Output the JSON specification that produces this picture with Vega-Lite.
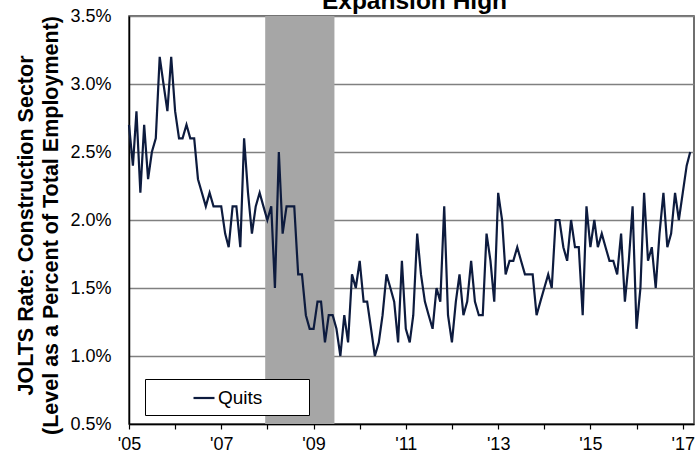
{
  "$schema": "https://vega.github.io/schema/vega-lite/v6.json",
  "width": 565,
  "height": 408,
  "autosize": {"type": "none"},
  "padding": {"left": 129, "top": 16, "right": 3, "bottom": 36},
  "background": "white",
  "config": {
    "view": {"stroke": "#404040", "strokeWidth": 1.5},
    "font": "Liberation Sans"
  },
  "title": {
    "text": "Expansion High",
    "fontSize": 24.5,
    "fontWeight": "bold",
    "color": "black",
    "anchor": "middle",
    "baseline": "alphabetic",
    "offset": 0,
    "dy": 26.5,
    "dx": 3
  },
  "datasets": {
    "recession": [{"start": "2007-12-15", "end": "2009-06-15"}],
    "quits": [
      {"date": "2005-01-01", "series": "Quits", "rate": 2.7},
      {"date": "2005-02-01", "series": "Quits", "rate": 2.4},
      {"date": "2005-03-01", "series": "Quits", "rate": 2.8},
      {"date": "2005-04-01", "series": "Quits", "rate": 2.2},
      {"date": "2005-05-01", "series": "Quits", "rate": 2.7},
      {"date": "2005-06-01", "series": "Quits", "rate": 2.3},
      {"date": "2005-07-01", "series": "Quits", "rate": 2.5},
      {"date": "2005-08-01", "series": "Quits", "rate": 2.6},
      {"date": "2005-09-01", "series": "Quits", "rate": 3.2},
      {"date": "2005-10-01", "series": "Quits", "rate": 3.0},
      {"date": "2005-11-01", "series": "Quits", "rate": 2.8},
      {"date": "2005-12-01", "series": "Quits", "rate": 3.2},
      {"date": "2006-01-01", "series": "Quits", "rate": 2.8},
      {"date": "2006-02-01", "series": "Quits", "rate": 2.6},
      {"date": "2006-03-01", "series": "Quits", "rate": 2.6},
      {"date": "2006-04-01", "series": "Quits", "rate": 2.7},
      {"date": "2006-05-01", "series": "Quits", "rate": 2.6},
      {"date": "2006-06-01", "series": "Quits", "rate": 2.6},
      {"date": "2006-07-01", "series": "Quits", "rate": 2.3},
      {"date": "2006-08-01", "series": "Quits", "rate": 2.2},
      {"date": "2006-09-01", "series": "Quits", "rate": 2.1},
      {"date": "2006-10-01", "series": "Quits", "rate": 2.2},
      {"date": "2006-11-01", "series": "Quits", "rate": 2.1},
      {"date": "2006-12-01", "series": "Quits", "rate": 2.1},
      {"date": "2007-01-01", "series": "Quits", "rate": 2.1},
      {"date": "2007-02-01", "series": "Quits", "rate": 1.9},
      {"date": "2007-03-01", "series": "Quits", "rate": 1.8},
      {"date": "2007-04-01", "series": "Quits", "rate": 2.1},
      {"date": "2007-05-01", "series": "Quits", "rate": 2.1},
      {"date": "2007-06-01", "series": "Quits", "rate": 1.8},
      {"date": "2007-07-01", "series": "Quits", "rate": 2.6},
      {"date": "2007-08-01", "series": "Quits", "rate": 2.2},
      {"date": "2007-09-01", "series": "Quits", "rate": 1.9},
      {"date": "2007-10-01", "series": "Quits", "rate": 2.1},
      {"date": "2007-11-01", "series": "Quits", "rate": 2.2},
      {"date": "2007-12-01", "series": "Quits", "rate": 2.1},
      {"date": "2008-01-01", "series": "Quits", "rate": 2.0},
      {"date": "2008-02-01", "series": "Quits", "rate": 2.1},
      {"date": "2008-03-01", "series": "Quits", "rate": 1.5},
      {"date": "2008-04-01", "series": "Quits", "rate": 2.5},
      {"date": "2008-05-01", "series": "Quits", "rate": 1.9},
      {"date": "2008-06-01", "series": "Quits", "rate": 2.1},
      {"date": "2008-07-01", "series": "Quits", "rate": 2.1},
      {"date": "2008-08-01", "series": "Quits", "rate": 2.1},
      {"date": "2008-09-01", "series": "Quits", "rate": 1.6},
      {"date": "2008-10-01", "series": "Quits", "rate": 1.6},
      {"date": "2008-11-01", "series": "Quits", "rate": 1.3},
      {"date": "2008-12-01", "series": "Quits", "rate": 1.2},
      {"date": "2009-01-01", "series": "Quits", "rate": 1.2},
      {"date": "2009-02-01", "series": "Quits", "rate": 1.4},
      {"date": "2009-03-01", "series": "Quits", "rate": 1.4},
      {"date": "2009-04-01", "series": "Quits", "rate": 1.1},
      {"date": "2009-05-01", "series": "Quits", "rate": 1.3},
      {"date": "2009-06-01", "series": "Quits", "rate": 1.3},
      {"date": "2009-07-01", "series": "Quits", "rate": 1.2},
      {"date": "2009-08-01", "series": "Quits", "rate": 1.0},
      {"date": "2009-09-01", "series": "Quits", "rate": 1.3},
      {"date": "2009-10-01", "series": "Quits", "rate": 1.1},
      {"date": "2009-11-01", "series": "Quits", "rate": 1.6},
      {"date": "2009-12-01", "series": "Quits", "rate": 1.5},
      {"date": "2010-01-01", "series": "Quits", "rate": 1.7},
      {"date": "2010-02-01", "series": "Quits", "rate": 1.4},
      {"date": "2010-03-01", "series": "Quits", "rate": 1.4},
      {"date": "2010-04-01", "series": "Quits", "rate": 1.2},
      {"date": "2010-05-01", "series": "Quits", "rate": 1.0},
      {"date": "2010-06-01", "series": "Quits", "rate": 1.1},
      {"date": "2010-07-01", "series": "Quits", "rate": 1.3},
      {"date": "2010-08-01", "series": "Quits", "rate": 1.6},
      {"date": "2010-09-01", "series": "Quits", "rate": 1.5},
      {"date": "2010-10-01", "series": "Quits", "rate": 1.4},
      {"date": "2010-11-01", "series": "Quits", "rate": 1.1},
      {"date": "2010-12-01", "series": "Quits", "rate": 1.7},
      {"date": "2011-01-01", "series": "Quits", "rate": 1.2},
      {"date": "2011-02-01", "series": "Quits", "rate": 1.1},
      {"date": "2011-03-01", "series": "Quits", "rate": 1.3},
      {"date": "2011-04-01", "series": "Quits", "rate": 1.9},
      {"date": "2011-05-01", "series": "Quits", "rate": 1.6},
      {"date": "2011-06-01", "series": "Quits", "rate": 1.4},
      {"date": "2011-07-01", "series": "Quits", "rate": 1.3},
      {"date": "2011-08-01", "series": "Quits", "rate": 1.2},
      {"date": "2011-09-01", "series": "Quits", "rate": 1.5},
      {"date": "2011-10-01", "series": "Quits", "rate": 1.4},
      {"date": "2011-11-01", "series": "Quits", "rate": 2.1},
      {"date": "2011-12-01", "series": "Quits", "rate": 1.3},
      {"date": "2012-01-01", "series": "Quits", "rate": 1.1},
      {"date": "2012-02-01", "series": "Quits", "rate": 1.4},
      {"date": "2012-03-01", "series": "Quits", "rate": 1.6},
      {"date": "2012-04-01", "series": "Quits", "rate": 1.3},
      {"date": "2012-05-01", "series": "Quits", "rate": 1.4},
      {"date": "2012-06-01", "series": "Quits", "rate": 1.7},
      {"date": "2012-07-01", "series": "Quits", "rate": 1.4},
      {"date": "2012-08-01", "series": "Quits", "rate": 1.3},
      {"date": "2012-09-01", "series": "Quits", "rate": 1.3},
      {"date": "2012-10-01", "series": "Quits", "rate": 1.9},
      {"date": "2012-11-01", "series": "Quits", "rate": 1.7},
      {"date": "2012-12-01", "series": "Quits", "rate": 1.4},
      {"date": "2013-01-01", "series": "Quits", "rate": 2.2},
      {"date": "2013-02-01", "series": "Quits", "rate": 2.0},
      {"date": "2013-03-01", "series": "Quits", "rate": 1.6},
      {"date": "2013-04-01", "series": "Quits", "rate": 1.7},
      {"date": "2013-05-01", "series": "Quits", "rate": 1.7},
      {"date": "2013-06-01", "series": "Quits", "rate": 1.8},
      {"date": "2013-07-01", "series": "Quits", "rate": 1.7},
      {"date": "2013-08-01", "series": "Quits", "rate": 1.6},
      {"date": "2013-09-01", "series": "Quits", "rate": 1.6},
      {"date": "2013-10-01", "series": "Quits", "rate": 1.6},
      {"date": "2013-11-01", "series": "Quits", "rate": 1.3},
      {"date": "2013-12-01", "series": "Quits", "rate": 1.4},
      {"date": "2014-01-01", "series": "Quits", "rate": 1.5},
      {"date": "2014-02-01", "series": "Quits", "rate": 1.6},
      {"date": "2014-03-01", "series": "Quits", "rate": 1.5},
      {"date": "2014-04-01", "series": "Quits", "rate": 2.0},
      {"date": "2014-05-01", "series": "Quits", "rate": 2.0},
      {"date": "2014-06-01", "series": "Quits", "rate": 1.8},
      {"date": "2014-07-01", "series": "Quits", "rate": 1.7},
      {"date": "2014-08-01", "series": "Quits", "rate": 2.0},
      {"date": "2014-09-01", "series": "Quits", "rate": 1.8},
      {"date": "2014-10-01", "series": "Quits", "rate": 1.8},
      {"date": "2014-11-01", "series": "Quits", "rate": 1.3},
      {"date": "2014-12-01", "series": "Quits", "rate": 2.1},
      {"date": "2015-01-01", "series": "Quits", "rate": 1.8},
      {"date": "2015-02-01", "series": "Quits", "rate": 2.0},
      {"date": "2015-03-01", "series": "Quits", "rate": 1.8},
      {"date": "2015-04-01", "series": "Quits", "rate": 1.9},
      {"date": "2015-05-01", "series": "Quits", "rate": 1.8},
      {"date": "2015-06-01", "series": "Quits", "rate": 1.7},
      {"date": "2015-07-01", "series": "Quits", "rate": 1.7},
      {"date": "2015-08-01", "series": "Quits", "rate": 1.6},
      {"date": "2015-09-01", "series": "Quits", "rate": 1.9},
      {"date": "2015-10-01", "series": "Quits", "rate": 1.4},
      {"date": "2015-11-01", "series": "Quits", "rate": 1.7},
      {"date": "2015-12-01", "series": "Quits", "rate": 2.1},
      {"date": "2016-01-01", "series": "Quits", "rate": 1.2},
      {"date": "2016-02-01", "series": "Quits", "rate": 1.5},
      {"date": "2016-03-01", "series": "Quits", "rate": 2.2},
      {"date": "2016-04-01", "series": "Quits", "rate": 1.7},
      {"date": "2016-05-01", "series": "Quits", "rate": 1.8},
      {"date": "2016-06-01", "series": "Quits", "rate": 1.5},
      {"date": "2016-07-01", "series": "Quits", "rate": 1.9},
      {"date": "2016-08-01", "series": "Quits", "rate": 2.2},
      {"date": "2016-09-01", "series": "Quits", "rate": 1.8},
      {"date": "2016-10-01", "series": "Quits", "rate": 1.9},
      {"date": "2016-11-01", "series": "Quits", "rate": 2.2},
      {"date": "2016-12-01", "series": "Quits", "rate": 2.0},
      {"date": "2017-01-01", "series": "Quits", "rate": 2.2},
      {"date": "2017-02-01", "series": "Quits", "rate": 2.4},
      {"date": "2017-03-01", "series": "Quits", "rate": 2.5}
    ]
  },
  "layer": [
    {
      "data": {"name": "recession"},
      "mark": {"type": "rect", "color": "#a6a6a6"},
      "encoding": {
        "x": {
          "field": "start",
          "type": "temporal",
          "scale": {
            "type": "utc",
            "domain": [
              {"year": 2005, "month": 1, "date": 1, "utc": true},
              {"year": 2017, "month": 3, "date": 31, "utc": true}
            ]
          },
          "axis": {
            "title": null,
            "grid": false,
            "values": [
              {"year": 2005, "month": 1, "date": 1, "utc": true},
              {"year": 2006, "month": 1, "date": 1, "utc": true},
              {"year": 2007, "month": 1, "date": 1, "utc": true},
              {"year": 2008, "month": 1, "date": 1, "utc": true},
              {"year": 2009, "month": 1, "date": 1, "utc": true},
              {"year": 2010, "month": 1, "date": 1, "utc": true},
              {"year": 2011, "month": 1, "date": 1, "utc": true},
              {"year": 2012, "month": 1, "date": 1, "utc": true},
              {"year": 2013, "month": 1, "date": 1, "utc": true},
              {"year": 2014, "month": 1, "date": 1, "utc": true},
              {"year": 2015, "month": 1, "date": 1, "utc": true},
              {"year": 2016, "month": 1, "date": 1, "utc": true},
              {"year": 2017, "month": 1, "date": 1, "utc": true}
            ],
            "labelExpr": "utcyear(datum.value) % 2 == 1 ? \"'\" + utcFormat(datum.value, '%y') : ''",
            "labelFontSize": 18,
            "labelColor": "black",
            "labelPadding": 6,
            "labelFlush": false,
            "labelOverlap": false,
            "domainColor": "black",
            "domainWidth": 1.5,
            "tickColor": "black",
            "tickSize": 5,
            "tickWidth": 1.2
          }
        },
        "x2": {"field": "end"}
      }
    },
    {
      "data": {"name": "quits"},
      "mark": {"type": "line", "strokeWidth": 2.2},
      "encoding": {
        "x": {
          "field": "date",
          "type": "temporal",
          "scale": {
            "type": "utc",
            "domain": [
              {"year": 2005, "month": 1, "date": 1, "utc": true},
              {"year": 2017, "month": 3, "date": 31, "utc": true}
            ]
          },
          "axis": {
            "title": null,
            "grid": false,
            "values": [
              {"year": 2005, "month": 1, "date": 1, "utc": true},
              {"year": 2006, "month": 1, "date": 1, "utc": true},
              {"year": 2007, "month": 1, "date": 1, "utc": true},
              {"year": 2008, "month": 1, "date": 1, "utc": true},
              {"year": 2009, "month": 1, "date": 1, "utc": true},
              {"year": 2010, "month": 1, "date": 1, "utc": true},
              {"year": 2011, "month": 1, "date": 1, "utc": true},
              {"year": 2012, "month": 1, "date": 1, "utc": true},
              {"year": 2013, "month": 1, "date": 1, "utc": true},
              {"year": 2014, "month": 1, "date": 1, "utc": true},
              {"year": 2015, "month": 1, "date": 1, "utc": true},
              {"year": 2016, "month": 1, "date": 1, "utc": true},
              {"year": 2017, "month": 1, "date": 1, "utc": true}
            ],
            "labelExpr": "utcyear(datum.value) % 2 == 1 ? \"'\" + utcFormat(datum.value, '%y') : ''",
            "labelFontSize": 18,
            "labelColor": "black",
            "labelPadding": 6,
            "labelFlush": false,
            "labelOverlap": false,
            "domainColor": "black",
            "domainWidth": 1.5,
            "tickColor": "black",
            "tickSize": 5,
            "tickWidth": 1.2
          }
        },
        "y": {
          "field": "rate",
          "type": "quantitative",
          "scale": {"domain": [0.5, 3.5], "nice": false, "zero": false},
          "axis": {
            "values": [0.5, 1, 1.5, 2, 2.5, 3, 3.5],
            "labelExpr": "format(datum.value, '.1f') + '%'",
            "grid": true,
            "gridColor": "#808080",
            "gridWidth": 1.5,
            "domainColor": "black",
            "domainWidth": 1.5,
            "ticks": false,
            "labelPadding": 18,
            "labelFontSize": 18,
            "labelColor": "black",
            "title": ["JOLTS Rate: Construction Sector", "(Level as a Percent of Total Employment)"],
            "titleFontSize": 21.5,
            "titleFontWeight": "bold",
            "titleColor": "black",
            "titleLineHeight": 25,
            "titleAngle": -90,
            "titleAlign": "center",
            "titleBaseline": "middle",
            "titleX": -103,
            "titleY": 209
          }
        },
        "color": {
          "field": "series",
          "type": "nominal",
          "scale": {"domain": ["padL", "Quits", "padR"], "range": ["#ffffff", "#0d1b3e", "#ffffff"]},
          "legend": {
            "orient": "none",
            "legendX": 16,
            "legendY": 363,
            "title": null,
            "columns": 3,
            "columnPadding": 9,
            "strokeColor": "black",
            "fillColor": "white",
            "padding": 7,
            "symbolType": "stroke",
            "symbolSize": 441,
            "symbolStrokeWidth": 2.2,
            "symbolOffset": 1,
            "labelOffset": 2,
            "labelFontSize": 19,
            "labelColor": "black",
            "labelExpr": "datum.label == 'Quits' ? 'Quits' : ''"
          }
        }
      }
    }
  ]
}
